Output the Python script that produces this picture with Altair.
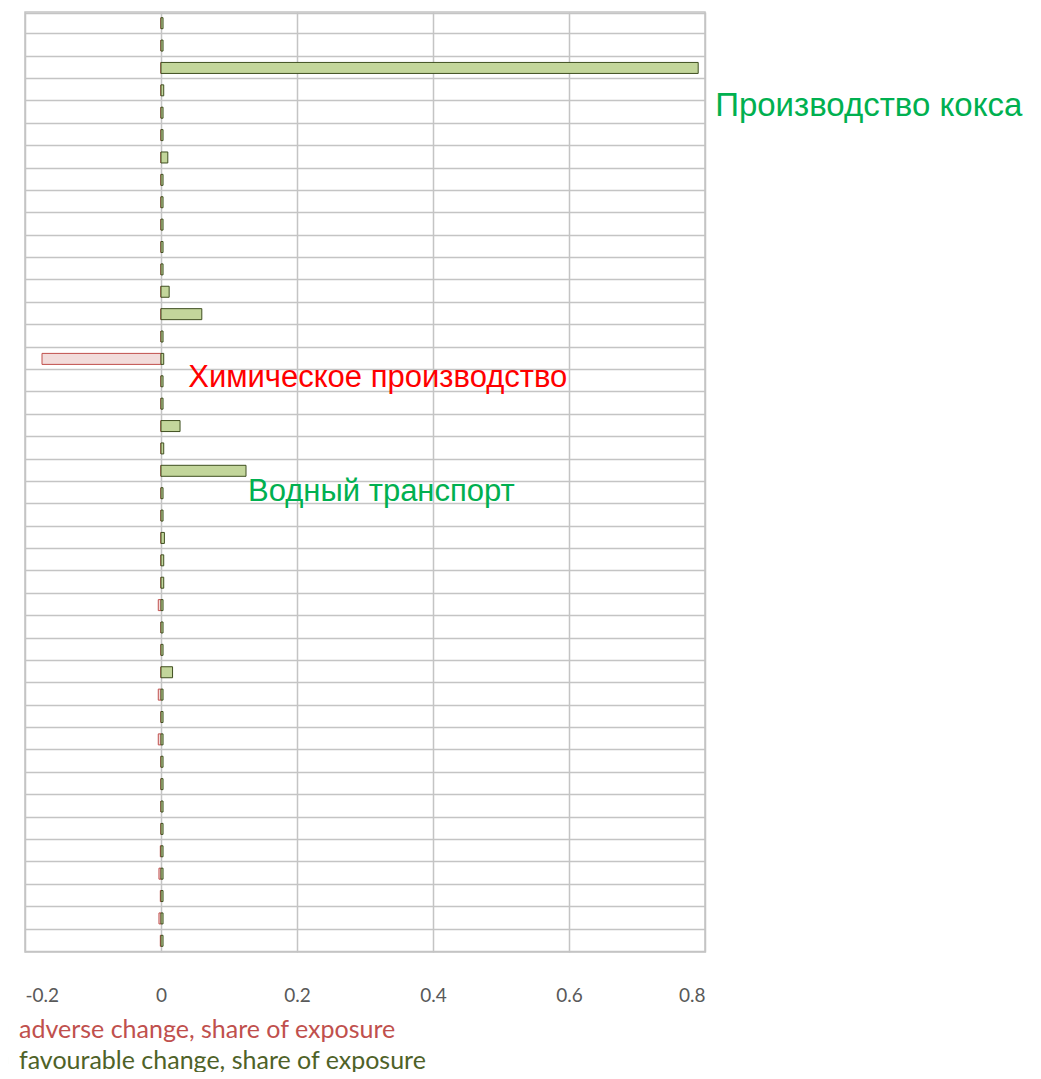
import altair as alt
import pandas as pd

rows = list(range(1, 43))

adverse = [0, 0, 0, 0, 0, 0, 0, 0, 0, 0,
           0, 0, 0, 0, 0, -0.175, 0, 0, 0, 0,
           0, 0, 0, 0, 0, 0, -0.004, 0, 0, 0,
           -0.004, 0, -0.004, 0, 0, 0, 0, -0.001, -0.003, -0.001,
           -0.003, -0.001]

favourable = [0.003, 0.003, 0.79, 0.004, 0.003, 0.003, 0.01, 0.003, 0.003, 0.003,
              0.003, 0.003, 0.012, 0.06, 0.003, 0.004, 0.003, 0.003, 0.028, 0.004,
              0.125, 0.003, 0.003, 0.005, 0.004, 0.004, 0.003, 0.003, 0.003, 0.017,
              0.003, 0.003, 0.003, 0.003, 0.003, 0.003, 0.003, 0.003, 0.003, 0.003,
              0.003, 0.003]

series_names = ["adverse change, share of exposure", "favourable change, share of exposure"]
tick_values = [-0.2, 0, 0.2, 0.4, 0.6, 0.8]

label_texts = ["Производство кокса", "Химическое производство", "Водный транспорт"]
label_rows = [3, 16, 21]
label_x = [0.815, 0.04, 0.128]
label_colors = ["#00B050", "#FF0000", "#00B050"]
label_dy = [38, 19, 21]
label_size = [33, 31, 31]

df = pd.DataFrame({
    "row": rows * 2,
    "series": [series_names[0]] * len(rows) + [series_names[1]] * len(rows),
    "value": adverse + favourable,
})

x_scale = alt.Scale(domain=[-0.2, 0.8], nice=False, zero=False)
y_enc = alt.Y("row:O", title=None,
              axis=alt.Axis(grid=True, tickBand="extent", labels=False, ticks=False,
                            domain=False, gridColor="#C4C4C4", gridWidth=1.5))

bars = alt.Chart(df).mark_bar(size=11, strokeWidth=1).encode(
    x=alt.X("value:Q", scale=x_scale, title=None,
            axis=alt.Axis(values=tick_values, labelExpr="'' + datum.value",
                          grid=True, gridColor="#C4C4C4", gridWidth=1.5,
                          ticks=False, domain=False, labelFontSize=19,
                          labelColor="#595959", labelPadding=34,
                          labelFont="Lato")),
    y=y_enc,
    color=alt.Color("series:N",
                    scale=alt.Scale(domain=series_names, range=["#F2DCDB", "#C3D69B"]),
                    legend=alt.Legend(title=None, orient="none", legendX=-33, legendY=1005,
                                      symbolType="square", symbolSize=50,
                                      symbolStrokeWidth=0,
                                      labelFontSize=25, labelFont="Lato",
                                      labelLimit=600, rowPadding=5, labelOffset=2,
                                      labelColor=alt.ExprRef(expr="datum.label == 'adverse change, share of exposure' ? '#C0504D' : '#4F6228'"))),
    stroke=alt.Stroke("series:N",
                      scale=alt.Scale(domain=series_names, range=["#C0504D", "#3F4F20"]),
                      legend=None),
)

layers = [bars]
for t, r, xv, c, dy, fs in zip(label_texts, label_rows, label_x, label_colors, label_dy, label_size):
    ldf = pd.DataFrame({"row": [r], "x": [xv], "text": [t]})
    layers.append(
        alt.Chart(ldf).mark_text(align="left", baseline="middle", fontSize=fs,
                                 font="Liberation Sans", color=c, dy=dy).encode(
            x=alt.X("x:Q", scale=x_scale),
            y=alt.Y("row:O"),
            text="text:N",
        )
    )

chart = alt.layer(*layers).properties(
    width=680, height=940,
    autosize=alt.AutoSizeParams(type="none"),
    padding={"left": 17, "top": 4, "right": 320, "bottom": 120},
).configure_view(stroke="#C4C4C4", strokeWidth=1.5)

chart.save("out.html", embed_options={"renderer": "svg", "actions": False})
